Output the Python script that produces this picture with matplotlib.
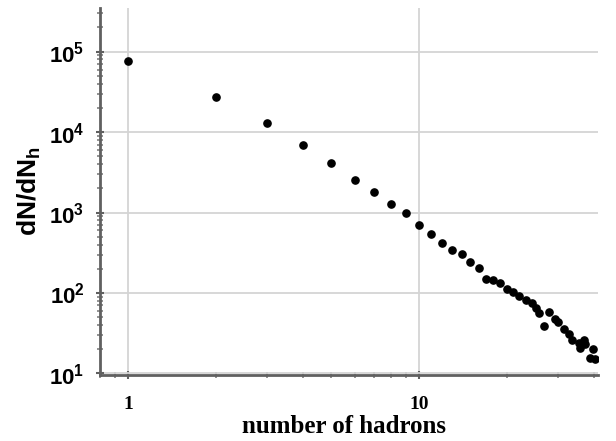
import matplotlib
matplotlib.use('Agg')
import matplotlib.pyplot as plt
from matplotlib.ticker import FixedLocator, LogLocator, NullFormatter

# values (log-log multiplicity spectrum)
n_hadrons = [1, 2, 3, 4, 5, 6, 7, 8, 9, 10, 11, 12, 13, 14, 15, 16, 17, 18, 19, 20,
             21, 22, 23.2, 24.4, 25.2, 25.9, 26.8, 28.0, 29.2, 30.0, 31.4, 32.6, 33.5,
             35.3, 36.7, 35.8, 37.2, 39.7, 38.7, 40.3]
dn_dnh = [77300, 27000, 13000, 7000, 4140, 2570, 1810, 1280, 990, 710, 548, 421, 340,
          307, 241, 206, 149, 144, 134, 113, 102, 91, 83, 75.5, 66, 56.8, 38.7, 58.4,
          46.9, 43.4, 35.2, 30.5, 26.4, 24.0, 26.4, 20.8, 22.9, 19.9, 15.7, 14.9]

x_major = [1, 10]
x_labels = ['1', '10']
y_major = [1e1, 1e2, 1e3, 1e4, 1e5]
y_labels = [r'$\mathbf{10^{%d}}$' % e for e in range(1, 6)]

plt.rcParams['mathtext.fontset'] = 'custom'
plt.rcParams['mathtext.bf'] = 'Liberation Sans:bold'
plt.rcParams['mathtext.rm'] = 'Liberation Sans'

fig = plt.figure(figsize=(6.16, 4.41), dpi=100)
ax = fig.add_axes([0.162, 0.150, 0.808, 0.832])

ax.plot(n_hadrons, dn_dnh, 'o', color='black', markersize=5.2, zorder=3)

ax.set_xscale('log')
ax.set_yscale('log')
ax.set_xlim(0.80, 41)
ax.set_ylim(9.6, 3.5e5)

ax.xaxis.set_major_locator(FixedLocator(x_major))
ax.set_xticklabels(x_labels, fontsize=14, fontweight='bold', family='Liberation Serif')
ax.yaxis.set_major_locator(FixedLocator(y_major))
ax.set_yticklabels(y_labels, fontsize=16)
ax.xaxis.set_minor_locator(LogLocator(base=10, subs=range(2, 10)))
ax.yaxis.set_minor_locator(LogLocator(base=10, subs=range(2, 10), numticks=20))
ax.xaxis.set_minor_formatter(NullFormatter())
ax.yaxis.set_minor_formatter(NullFormatter())

ax.grid(True, which='major', color='#d4d4d4', linewidth=1.3)
ax.set_axisbelow(True)

for side in ['top', 'right']:
    ax.spines[side].set_visible(False)
for side in ['left', 'bottom']:
    ax.spines[side].set_color('#606060')
    ax.spines[side].set_linewidth(2)

ax.tick_params(which='major', direction='inout', length=6, width=1.5, color='#606060')
ax.tick_params(axis='x', which='major', pad=12)
ax.tick_params(axis='y', which='major', pad=8)
ax.tick_params(which='minor', direction='inout', length=4, width=1.2, color='#808080')

ax.set_xlabel('number of hadrons', fontsize=18, fontweight='bold',
              family='Liberation Serif', va='bottom')
ax.xaxis.set_label_coords(0.49, -0.172)
ax.set_ylabel(r'$\mathbf{dN/dN_h}$', fontsize=19, va='center')
ax.yaxis.set_label_coords(-0.141, 0.5)

fig.savefig('out.png', dpi=100)
